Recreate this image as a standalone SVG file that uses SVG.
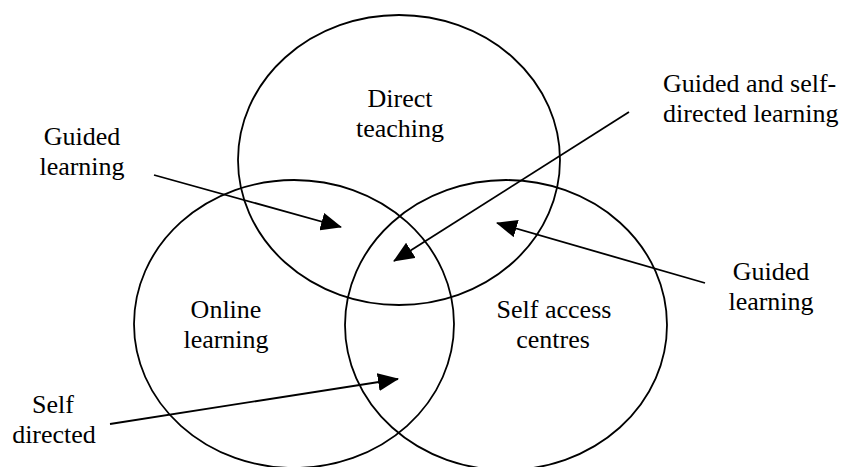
<svg xmlns="http://www.w3.org/2000/svg" width="845" height="467" viewBox="0 0 845 467">
<defs>
<style>
.c{fill:none;stroke:#000;stroke-width:1.8}
.a{fill:none;stroke:#000;stroke-width:1.8;marker-end:url(#ah)}
text{font-family:"Liberation Serif","Times New Roman",serif;font-size:26px;fill:#000;text-anchor:middle}
</style>
<marker id="ah" markerUnits="userSpaceOnUse" viewBox="0 0 21 18" markerWidth="21" markerHeight="18" refX="20" refY="9" orient="auto">
<path d="M0,0 L21,9 L0,18 z" fill="#000"/>
</marker>
</defs>
<rect width="845" height="467" fill="#fff"/>
<g id="direct-teaching">
<ellipse class="c" cx="399" cy="160" rx="161" ry="145"/>
<text x="400" y="107">Direct</text>
<text x="400" y="137">teaching</text>
</g>
<g id="online-learning">
<ellipse class="c" cx="294" cy="324" rx="160" ry="144"/>
<text x="226" y="318">Online</text>
<text x="226" y="348">learning</text>
</g>
<g id="self-access">
<ellipse class="c" cx="506" cy="325" rx="161" ry="145"/>
<text x="554" y="318">Self access</text>
<text x="553" y="348">centres</text>
</g>
<g id="label-guided-left">
<text x="82" y="145">Guided</text>
<text x="82" y="175">learning</text>
</g>
<g id="label-guided-self">
<text x="663" y="92" style="text-anchor:start">Guided and self-</text>
<text x="663" y="122" style="text-anchor:start">directed learning</text>
</g>
<g id="label-guided-right">
<text x="771" y="280">Guided</text>
<text x="771" y="310">learning</text>
</g>
<g id="label-self-directed">
<text x="53" y="413">Self</text>
<text x="54" y="443">directed</text>
</g>
<g id="connectors">
<line class="a" x1="154" y1="175" x2="341" y2="227"/>
<line class="a" x1="629" y1="112" x2="394" y2="261"/>
<line class="a" x1="705" y1="283" x2="497" y2="223"/>
<line class="a" x1="110" y1="424" x2="398" y2="379"/>
</g>
</svg>
